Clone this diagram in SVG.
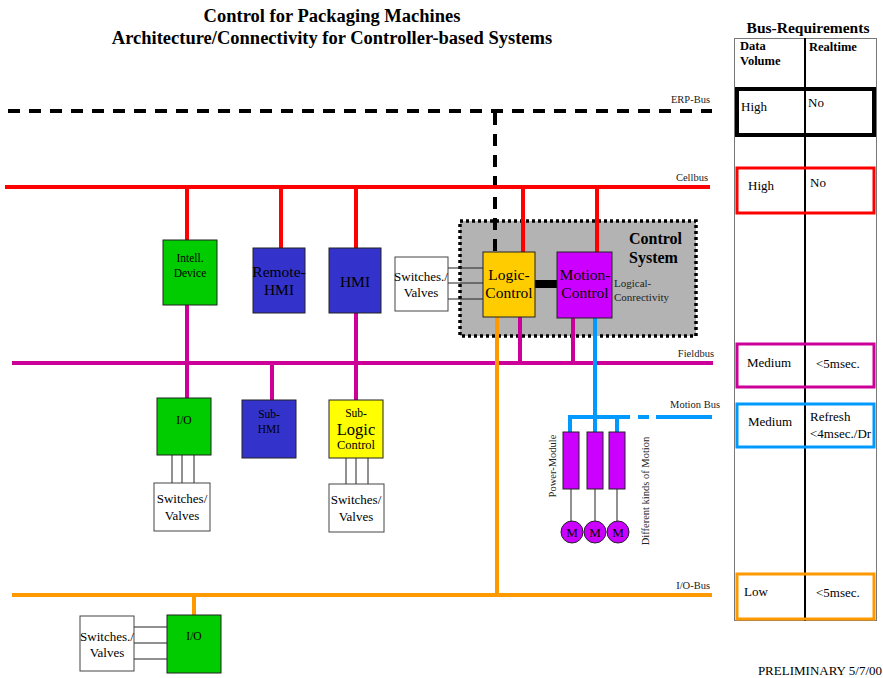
<svg xmlns="http://www.w3.org/2000/svg" width="883" height="678" viewBox="0 0 883 678">
  <style>
    text { font-family: "Liberation Serif", "Times New Roman", serif; fill: #000; }
    .title { font-size: 18.5px; font-weight: bold; text-anchor: middle; }
    .lbl { font-size: 10.5px; text-anchor: end; fill: #222; }
    .box { stroke: #222; stroke-width: 1; }
    .white { fill: #fff; stroke: #444; stroke-width: 1; }
    .green { fill: #00CC00; }
    .blue { fill: #3333CC; }
    .gold { fill: #FFCC00; }
    .purple { fill: #CC00FF; }
    .yellow { fill: #FFFF00; }
    .c { text-anchor: middle; }
    .s11 { font-size: 11.5px; }
    .s12 { font-size: 12.5px; }
    .s13 { font-size: 13px; }
    .s15 { font-size: 15.5px; }
    .wire { stroke: #222; stroke-width: 1; fill: none; }
    .cell { stroke: #FF0000; stroke-width: 4; fill: none; }
    .field { stroke: #CC0099; stroke-width: 4; fill: none; }
    .motion { stroke: #0099FF; stroke-width: 4; fill: none; }
    .iobus { stroke: #FF9900; stroke-width: 4; fill: none; }
    .erp { stroke: #000; stroke-width: 4; stroke-dasharray: 12 9; fill: none; }
    .tcell { font-size: 13px; }
    .th { font-size: 12.5px; font-weight: bold; }
  </style>

  <!-- Titles -->
  <text class="title" x="332" y="22">Control for Packaging Machines</text>
  <text class="title" x="332" y="44">Architecture/Connectivity for Controller-based Systems</text>

  <!-- Control system enclosure -->
  <g id="control-system">
    <rect x="460" y="221" width="236" height="115" fill="#B3B3B3" stroke="#000" stroke-width="3.5" stroke-dasharray="3 3"/>
    <text x="629" y="244" style="font-size:16px;font-weight:bold">Control</text>
    <text x="629" y="263" style="font-size:16px;font-weight:bold">System</text>
  </g>

  <!-- Bus lines and connectors -->
  <g id="connectors">
    <!-- ERP bus -->
    <line class="erp" x1="8" y1="111" x2="712" y2="111"/>
    <line class="erp" x1="495" y1="113" x2="495" y2="251"/>
    <!-- Cellbus -->
    <line class="cell" x1="5" y1="187" x2="710" y2="187"/>
    <line class="cell" x1="187" y1="187" x2="187" y2="240"/>
    <line class="cell" x1="281" y1="187" x2="281" y2="248"/>
    <line class="cell" x1="356" y1="187" x2="356" y2="248"/>
    <line class="cell" x1="523" y1="187" x2="523" y2="252"/>
    <line class="cell" x1="597" y1="187" x2="597" y2="252"/>
    <!-- Fieldbus -->
    <line class="field" x1="12" y1="363" x2="713" y2="363"/>
    <line class="field" x1="187" y1="305" x2="187" y2="398"/>
    <line class="field" x1="272" y1="363" x2="272" y2="400"/>
    <line class="field" x1="356" y1="313" x2="356" y2="400"/>
    <line class="field" x1="520" y1="317" x2="520" y2="363"/>
    <line class="field" x1="573" y1="318" x2="573" y2="363"/>
    <!-- I/O bus -->
    <line class="iobus" x1="12" y1="595" x2="712" y2="595"/>
    <line class="iobus" x1="497" y1="317" x2="497" y2="597"/>
    <line class="iobus" x1="194" y1="595" x2="194" y2="615"/>
    <!-- Motion bus -->
    <line class="motion" x1="595" y1="318" x2="595" y2="432"/>
    <path class="motion" d="M570 432 V417 H630"/>
    <line class="motion" x1="617" y1="417" x2="617" y2="432"/>
    <line class="motion" x1="638" y1="417" x2="649" y2="417"/>
    <line class="motion" x1="656" y1="417" x2="712" y2="417"/>
    <!-- Logic / Motion coupling -->
    <rect x="535" y="280" width="22" height="8" fill="#000"/>
    <!-- Switch wires -->
    <line class="wire" x1="448" y1="268" x2="483" y2="268"/>
    <line class="wire" x1="448" y1="283" x2="483" y2="283"/>
    <line class="wire" x1="448" y1="299" x2="483" y2="299"/>
    <line class="wire" x1="172" y1="455" x2="172" y2="483"/>
    <line class="wire" x1="182" y1="455" x2="182" y2="483"/>
    <line class="wire" x1="194" y1="455" x2="194" y2="483"/>
    <line class="wire" x1="346" y1="458" x2="346" y2="484"/>
    <line class="wire" x1="356" y1="458" x2="356" y2="484"/>
    <line class="wire" x1="368" y1="458" x2="368" y2="484"/>
    <line class="wire" x1="134" y1="627" x2="168" y2="627"/>
    <line class="wire" x1="134" y1="643" x2="168" y2="643"/>
    <line class="wire" x1="134" y1="659" x2="168" y2="659"/>
    <!-- Power module to motor leads -->
    <line class="wire" x1="571" y1="489" x2="571" y2="521"/>
    <line class="wire" x1="595" y1="489" x2="595" y2="521"/>
    <line class="wire" x1="617" y1="489" x2="617" y2="521"/>
  </g>

  <!-- Bus labels -->
  <text class="lbl" x="710" y="103">ERP-Bus</text>
  <text class="lbl" x="708" y="181">Cellbus</text>
  <text class="lbl" x="714" y="357">Fieldbus</text>
  <text class="lbl" x="720" y="408">Motion Bus</text>
  <text class="lbl" x="710" y="589">I/O-Bus</text>

  <!-- Nodes -->
  <g id="intell-device">
    <rect class="box green" x="163" y="240" width="54" height="65"/>
    <text class="c s11" x="190" y="262">Intell.</text>
    <text class="c s11" x="190" y="277">Device</text>
  </g>
  <g id="remote-hmi">
    <rect class="box blue" x="253" y="248" width="52" height="65"/>
    <text class="c s15" x="279" y="277">Remote-</text>
    <text class="c s15" x="279" y="295">HMI</text>
  </g>
  <g id="hmi">
    <rect class="box blue" x="329" y="248" width="52" height="65"/>
    <text class="c s15" x="355" y="287">HMI</text>
  </g>
  <g id="switches-valves-cs">
    <rect class="white" x="395" y="257" width="53" height="54"/>
    <text class="c s13" x="421" y="281">Switches./</text>
    <text class="c s13" x="421" y="297">Valves</text>
  </g>
  <g id="logic-control">
    <rect class="box gold" x="483" y="252" width="52" height="65"/>
    <text class="c s15" x="509" y="280">Logic-</text>
    <text class="c s15" x="509" y="298">Control</text>
  </g>
  <g id="motion-control">
    <rect class="box purple" x="557" y="252" width="55" height="66"/>
    <text class="c s15" x="585" y="280">Motion-</text>
    <text class="c s15" x="585" y="298">Control</text>
    <text x="614" y="287" style="font-size:11px;fill:#222">Logical-</text>
    <text x="614" y="301" style="font-size:11px;fill:#222">Conrectivity</text>
  </g>
  <g id="io-field">
    <rect class="box green" x="157" y="398" width="54" height="57"/>
    <text class="c s11" x="184" y="424">I/O</text>
  </g>
  <g id="switches-valves-io">
    <rect class="white" x="154" y="483" width="56" height="48"/>
    <text class="c s13" x="182" y="503">Switches/</text>
    <text class="c s13" x="182" y="520">Valves</text>
  </g>
  <g id="sub-hmi">
    <rect class="box blue" x="242" y="400" width="54" height="58"/>
    <text class="c s11" x="269" y="418">Sub-</text>
    <text class="c s11" x="269" y="433">HMI</text>
  </g>
  <g id="sub-logic-control">
    <rect class="box yellow" x="329" y="400" width="54" height="58"/>
    <text class="c s11" x="356" y="417">Sub-</text>
    <text class="c" x="356" y="435" style="font-size:16.5px">Logic</text>
    <text class="c s12" x="356" y="449">Control</text>
  </g>
  <g id="switches-valves-sub">
    <rect class="white" x="329" y="484" width="55" height="48"/>
    <text class="c s13" x="356" y="504">Switches/</text>
    <text class="c s13" x="356" y="521">Valves</text>
  </g>
  <g id="power-modules">
    <rect class="box purple" x="563" y="432" width="16" height="57"/>
    <rect class="box purple" x="587" y="432" width="16" height="57"/>
    <rect class="box purple" x="609" y="432" width="16" height="57"/>
    <text x="556" y="466" transform="rotate(-90 556 466)" style="font-size:10.5px;text-anchor:middle;fill:#222">Power-Module</text>
  </g>
  <g id="motors">
    <circle class="box purple" cx="572" cy="532" r="11"/>
    <circle class="box purple" cx="595" cy="532" r="11"/>
    <circle class="box purple" cx="618" cy="532" r="11"/>
    <text class="c s13" x="572" y="537">M</text>
    <text class="c s13" x="595" y="537">M</text>
    <text class="c s13" x="618" y="537">M</text>
    <text x="649" y="491" transform="rotate(-90 649 491)" style="font-size:10.5px;text-anchor:middle;fill:#222">Different kinds of Motion</text>
  </g>
  <g id="io-bottom">
    <rect class="box green" x="167" y="615" width="54" height="58"/>
    <text class="c s11" x="194" y="640">I/O</text>
  </g>
  <g id="switches-valves-bottom">
    <rect class="white" x="80" y="616" width="54" height="55"/>
    <text class="c s13" x="107" y="641">Switches./</text>
    <text class="c s13" x="107" y="657">Valves</text>
  </g>

  <!-- Bus requirements table -->
  <g id="bus-requirements">
    <text x="808" y="33" style="font-size:15.5px;font-weight:bold;text-anchor:middle">Bus-Requirements</text>
    <rect x="734.5" y="38.5" width="142" height="582" fill="none" stroke="#777" stroke-width="1"/>
    <line x1="805" y1="38" x2="805" y2="621" stroke="#000" stroke-width="2"/>
    <text class="th" x="740" y="50">Data</text>
    <text class="th" x="740" y="65">Volume</text>
    <text class="th" x="809" y="51">Realtime</text>

    <rect x="737" y="89" width="137" height="46" fill="none" stroke="#000" stroke-width="4"/>
    <text class="tcell" x="741" y="111">High</text>
    <text class="tcell" x="808" y="107">No</text>

    <rect x="737" y="168" width="137" height="45" fill="none" stroke="#FF0000" stroke-width="3"/>
    <text class="tcell" x="748" y="190">High</text>
    <text class="tcell" x="810" y="187">No</text>

    <rect x="737" y="344" width="137" height="43" fill="none" stroke="#CC0099" stroke-width="3"/>
    <text class="tcell" x="747" y="367">Medium</text>
    <text class="tcell" x="816" y="368">&lt;5msec.</text>

    <rect x="737" y="404" width="137" height="43" fill="none" stroke="#0099FF" stroke-width="3"/>
    <text class="tcell" x="748" y="426">Medium</text>
    <text class="tcell" x="810" y="421">Refresh</text>
    <text class="tcell" x="810" y="438">&lt;4msec./Dr</text>

    <rect x="737" y="574" width="137" height="45" fill="none" stroke="#FF9900" stroke-width="3"/>
    <text class="tcell" x="744" y="596">Low</text>
    <text class="tcell" x="816" y="597">&lt;5msec.</text>
  </g>

  <text x="882" y="675" style="font-size:13px;text-anchor:end">PRELIMINARY 5/7/00</text>
</svg>
